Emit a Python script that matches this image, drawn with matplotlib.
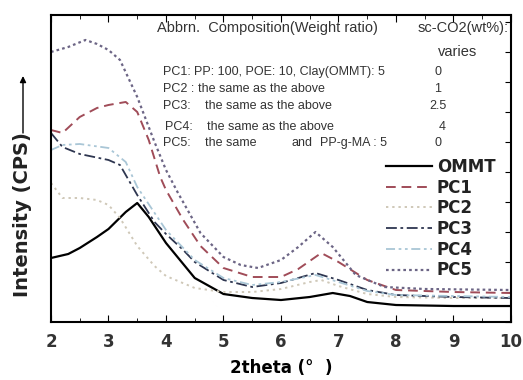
import matplotlib.pyplot as plt
from matplotlib.ticker import MultipleLocator

# --- data (y in arbitrary intensity units) ---
x_ommt = [2.0, 2.3, 2.5, 2.8, 3.0, 3.3, 3.5, 3.7, 4.0, 4.3, 4.5, 5.0, 5.5, 6.0, 6.5, 6.9, 7.2, 7.5, 8.0, 9.0, 10.0]
y_ommt = [64, 68, 74, 85, 93, 110, 119, 105, 79, 58, 44, 28, 24, 22, 25, 29, 26, 20, 17, 16, 16]

x_pc1 = [2.0, 2.2, 2.5, 2.8, 3.0, 3.3, 3.5, 3.7, 3.9, 4.0, 4.3, 4.6, 5.0, 5.5, 6.0, 6.3, 6.7, 7.0, 7.5, 8.0, 9.0, 10.0]
y_pc1 = [192, 189, 205, 214, 217, 220, 210, 182, 145, 132, 102, 76, 54, 45, 45, 53, 69, 60, 42, 32, 30, 29]

x_pc2 = [2.0, 2.2, 2.5, 2.8, 3.0, 3.2, 3.5, 3.8, 4.0, 4.5, 5.0, 5.5, 6.0, 6.5, 6.7, 7.0, 7.5, 8.0, 9.0, 10.0]
y_pc2 = [139, 124, 124, 122, 117, 104, 76, 56, 46, 34, 30, 30, 33, 40, 42, 36, 28, 25, 24, 24]

x_pc3 = [2.0, 2.2, 2.5, 3.0, 3.2, 3.5, 3.8, 4.0, 4.3, 4.5, 5.0, 5.5, 6.0, 6.3, 6.6, 7.0, 7.5, 8.0, 9.0, 10.0]
y_pc3 = [189, 175, 168, 162, 157, 127, 100, 88, 72, 60, 42, 35, 39, 44, 49, 42, 32, 27, 25, 24]

x_pc4 = [2.0, 2.2, 2.5, 3.0, 3.3, 3.5, 4.0, 4.5, 5.0, 5.5, 6.0, 6.6, 7.0, 7.5, 8.0, 9.0, 10.0]
y_pc4 = [172, 177, 178, 174, 160, 135, 92, 62, 44, 37, 40, 47, 40, 31, 27, 26, 25]

x_pc5 = [2.0, 2.3, 2.6, 2.8, 3.0, 3.2, 3.5, 3.8, 4.0, 4.2, 4.6, 5.0, 5.3, 5.6, 6.0, 6.3, 6.6, 6.9, 7.3, 7.8, 8.5, 10.0]
y_pc5 = [270, 275, 282, 278, 272, 262, 225, 180, 152, 130, 89, 65, 57, 54, 62, 75, 90, 75, 47, 35, 33, 32]

labels = ['OMMT', 'PC1', 'PC2', 'PC3', 'PC4', 'PC5']

# composition table text
row_tags = ['PC1:', 'PC2 :', 'PC3:', 'PC4:', 'PC5:']
row_desc = ['PP: 100, POE: 10, Clay(OMMT): 5',
            'the same as the above',
            'the same as the above',
            'the same as the above',
            'the same']
pc5_extra = ['and', 'PP-g-MA : 5']
sc_co2 = ['0', '1', '2.5', '4', '0']

fig = plt.figure(figsize=(5.23, 3.8), dpi=100)
ax = fig.add_axes([0.0975, 0.1526, 0.8795, 0.808])

ax.plot(x_ommt, y_ommt, color='black', lw=1.6, label=labels[0])
ax.plot(x_pc1, y_pc1, color='#a04c58', lw=1.4, ls=(0, (5, 3)), label=labels[1])
ax.plot(x_pc2, y_pc2, color='#cfc8b8', lw=1.4, ls=(0, (1.2, 2)), label=labels[2])
ax.plot(x_pc3, y_pc3, color='#2e3650', lw=1.3, ls=(0, (6, 2, 1.5, 2)), label=labels[3])
ax.plot(x_pc4, y_pc4, color='#a9c6d6', lw=1.3, ls=(0, (5, 2, 1.5, 2, 1.5, 2)), label=labels[4])
ax.plot(x_pc5, y_pc5, color='#6c6585', lw=1.6, ls=(0, (1.2, 1.4)), label=labels[5])

ax.set_xlim(2, 10)
ax.set_ylim(0, 307)
ax.xaxis.set_major_locator(MultipleLocator(1))
ax.xaxis.set_minor_locator(MultipleLocator(0.5))
ax.yaxis.set_major_locator(MultipleLocator(30))
ax.tick_params(axis='both', which='both', direction='in', top=True, right=True, left=False)
ax.tick_params(axis='y', labelleft=False, length=4)
ax.tick_params(axis='x', which='major', length=5, labelsize=12, pad=8)
ax.tick_params(axis='x', which='minor', length=3)
for lab in ax.get_xticklabels():
    lab.set_fontweight('bold')
    lab.set_color('#333333')
for s in ax.spines.values():
    s.set_linewidth(1.5)

ax.set_xlabel('2theta (°  )', fontsize=12, fontweight='bold', labelpad=6)

# y label with the upward arrow above it
fig.text(23 / 523, 1 - 215 / 380, 'Intensity (CPS)', rotation=90, fontsize=14,
         fontweight='bold', ha='center', va='center', color='#222222')
ax.annotate('', xy=(23 / 523, 1 - 76 / 380), xytext=(23 / 523, 1 - 133 / 380),
            xycoords='figure fraction', textcoords='figure fraction',
            arrowprops=dict(arrowstyle='-|>', color='black', lw=1.0,
                            mutation_scale=9, shrinkA=0, shrinkB=0))

leg = ax.legend(loc='upper left', bbox_to_anchor=(386 / 523, 1 - 158 / 380),
                bbox_transform=fig.transFigure, frameon=False,
                prop={'size': 12, 'weight': 'bold'}, handlelength=2.75,
                labelspacing=0.16, handletextpad=0.3, borderaxespad=0, borderpad=0)
for t in leg.get_texts():
    t.set_color('#222222')

hf = dict(fontsize=10.5, color='#333333', va='center', family='Liberation Sans')
tf = dict(hf, fontsize=9)
def px(xp, yp):
    return xp / 523, 1 - yp / 380

fig.text(*px(157, 28), 'Abbrn.  Composition(Weight ratio)', **hf)
fig.text(*px(418, 28), 'sc-CO2(wt%):', **hf)
fig.text(*px(438, 52), 'varies', **hf)
row_y = [72, 89, 106, 127, 143]
tag_x = [163, 163, 163, 165, 163]
desc_x = [194, 198, 205, 207, 205]
val_x = [438, 438, 438, 442, 438]
for tag, desc, val, yy, tx, dx, vx in zip(row_tags, row_desc, sc_co2, row_y, tag_x, desc_x, val_x):
    fig.text(*px(tx, yy), tag, **tf)
    fig.text(*px(dx, yy), desc, **tf)
    fig.text(*px(vx, yy), val, ha='center', **tf)
fig.text(*px(292, row_y[4]), pc5_extra[0], **tf)
fig.text(*px(320, row_y[4]), pc5_extra[1], **tf)

fig.savefig('out.png', dpi=100)
